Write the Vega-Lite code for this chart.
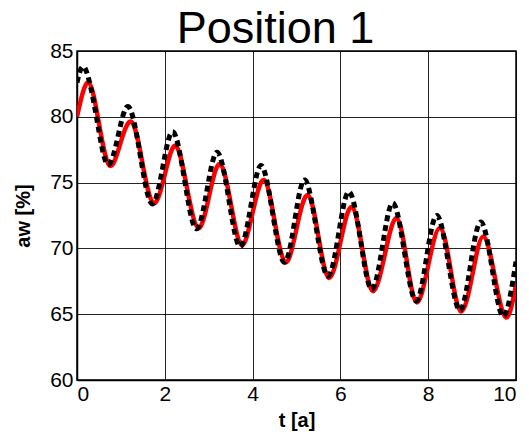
{
  "$schema": "https://vega.github.io/schema/vega-lite/v6.json",
  "autosize": {"type": "none"},
  "padding": {"left": 77, "top": 51, "right": 13, "bottom": 54},
  "width": 439,
  "height": 329,
  "background": "white",
  "title": {"text": "Position 1", "font": "Liberation Sans", "fontSize": 45, "fontWeight": "normal", "color": "#000", "anchor": "middle", "offset": -12, "dx": -21},
  "config": {
    "view": {"stroke": "#000", "strokeWidth": 1.5},
    "axis": {
      "domainColor": "#000", "domainWidth": 1.5, "gridColor": "#000", "gridWidth": 1, "gridOpacity": 0.85,
      "ticks": false, "labelFont": "Liberation Sans", "labelFontSize": 21, "labelColor": "#000",
      "titleFont": "Liberation Sans", "titleFontSize": 20, "titleFontWeight": "bold", "titleColor": "#000"
    }
  },
  "datasets": {
    "sim": [
      {"t": 0.0, "v": 80.0}, {"t": 0.26, "v": 82.6}, {"t": 0.5, "v": 79.5}, {"t": 0.74, "v": 76.3},
      {"t": 0.99, "v": 78.0}, {"t": 1.25, "v": 79.6}, {"t": 1.49, "v": 76.5}, {"t": 1.74, "v": 73.45},
      {"t": 2.0, "v": 75.6}, {"t": 2.25, "v": 77.8}, {"t": 2.5, "v": 74.7}, {"t": 2.76, "v": 71.55},
      {"t": 3.01, "v": 74.0}, {"t": 3.26, "v": 76.4}, {"t": 3.51, "v": 73.3}, {"t": 3.75, "v": 70.25},
      {"t": 4.0, "v": 72.7}, {"t": 4.26, "v": 75.2}, {"t": 4.5, "v": 72.1}, {"t": 4.75, "v": 68.95},
      {"t": 5.0, "v": 71.5}, {"t": 5.26, "v": 74.05}, {"t": 5.5, "v": 70.9}, {"t": 5.74, "v": 67.75},
      {"t": 6.0, "v": 70.45}, {"t": 6.26, "v": 73.15}, {"t": 6.5, "v": 69.95}, {"t": 6.74, "v": 66.75},
      {"t": 7.01, "v": 69.5}, {"t": 7.28, "v": 72.3}, {"t": 7.51, "v": 69.1}, {"t": 7.74, "v": 65.9},
      {"t": 8.0, "v": 68.7}, {"t": 8.27, "v": 71.55}, {"t": 8.51, "v": 68.4}, {"t": 8.75, "v": 65.2},
      {"t": 9.01, "v": 68.05}, {"t": 9.26, "v": 70.9}, {"t": 9.52, "v": 67.8}, {"t": 9.77, "v": 64.75},
      {"t": 10.0, "v": 67.2}
    ],
    "meas": [
      {"t": 0.0, "v": 82.6}, {"t": 0.18, "v": 83.7}, {"t": 0.44, "v": 80.05}, {"t": 0.69, "v": 76.4},
      {"t": 0.94, "v": 78.6}, {"t": 1.18, "v": 80.75}, {"t": 1.44, "v": 77.1}, {"t": 1.7, "v": 73.4},
      {"t": 1.95, "v": 76.1}, {"t": 2.19, "v": 78.85}, {"t": 2.45, "v": 75.2}, {"t": 2.71, "v": 71.5},
      {"t": 2.96, "v": 74.4}, {"t": 3.2, "v": 77.3}, {"t": 3.46, "v": 73.7}, {"t": 3.71, "v": 70.15},
      {"t": 3.96, "v": 73.2}, {"t": 4.2, "v": 76.3}, {"t": 4.46, "v": 72.6}, {"t": 4.72, "v": 68.95},
      {"t": 4.96, "v": 72.1}, {"t": 5.19, "v": 75.2}, {"t": 5.45, "v": 71.55}, {"t": 5.71, "v": 67.9},
      {"t": 5.96, "v": 71.1}, {"t": 6.2, "v": 74.3}, {"t": 6.46, "v": 70.6}, {"t": 6.71, "v": 66.9},
      {"t": 6.96, "v": 70.2}, {"t": 7.2, "v": 73.45}, {"t": 7.46, "v": 69.7}, {"t": 7.72, "v": 66.0},
      {"t": 7.96, "v": 69.25}, {"t": 8.2, "v": 72.5}, {"t": 8.46, "v": 68.9}, {"t": 8.72, "v": 65.3},
      {"t": 8.96, "v": 68.65}, {"t": 9.2, "v": 72.0}, {"t": 9.46, "v": 68.4}, {"t": 9.72, "v": 64.85},
      {"t": 10.0, "v": 69.0}
    ]
  },
  "encoding": {
    "x": {"field": "t", "type": "quantitative", "scale": {"domain": [0, 10], "nice": false}, "axis": {"values": [0, 2, 4, 6, 8, 10], "title": "t  [a]", "labelPadding": 3, "titlePadding": 6}},
    "y": {"field": "v", "type": "quantitative", "scale": {"domain": [60, 85], "nice": false, "zero": false}, "axis": {"values": [60, 65, 70, 75, 80, 85], "title": "aw  [%]", "labelPadding": 4, "titlePadding": 16}}
  },
  "layer": [
    {"data": {"name": "sim"}, "mark": {"type": "line", "color": "#ff0000", "strokeWidth": 4.5, "interpolate": "natural", "clip": true}},
    {"data": {"name": "meas"}, "mark": {"type": "line", "color": "#000000", "strokeWidth": 5, "strokeDash": [6, 4], "interpolate": "natural", "clip": true}}
  ]
}
